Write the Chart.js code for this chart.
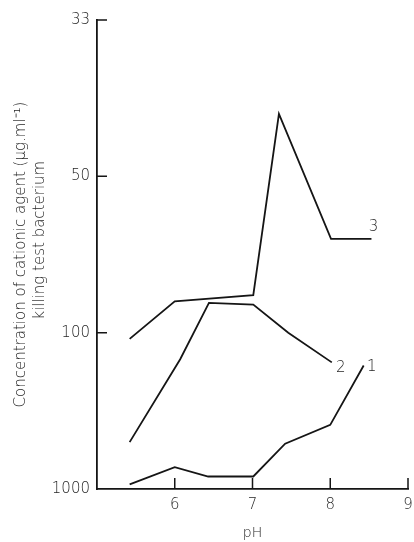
<!DOCTYPE html>
<html><head><meta charset="utf-8">
<script src="https://cdn.jsdelivr.net/npm/chart.js@4.4.0/dist/chart.umd.min.js"></script>
<style>html,body{margin:0;padding:0;background:#fff}#wrap{width:414px;height:542px}</style>
</head><body><div id="wrap"><canvas id="c" width="414" height="542"></canvas></div>
<script>
// Y axis: equally spaced levels labelled with concentrations (bottom to top)
const yTickLabels = ['1000', '100', '50', '33'];
const xTickValues = [6, 7, 8, 9];

// Curve 1
const curve1pH    = [5.42, 6.00, 6.43, 7.01, 7.42, 8.00, 8.43];
const curve1Level = [0.03, 0.14, 0.08, 0.08, 0.29, 0.41, 0.79];
// Curve 2
const curve2pH    = [5.42, 6.07, 6.44, 7.01, 7.46, 8.02];
const curve2Level = [0.30, 0.83, 1.19, 1.18, 1.00, 0.81];
// Curve 3
const curve3pH    = [5.42, 6.00, 7.01, 7.34, 8.01, 8.53];
const curve3Level = [0.96, 1.20, 1.24, 2.40, 1.60, 1.60];

const curveNames = ['1', '2', '3'];
const labelOffsets = [[8, 2], [9, 6], [2, -12]];

const ink = '#151515';
const txt = '#262626';
const fontFam = '"DejaVu Sans", sans-serif';
const fontW = '200';

function pts(xs, ys) { return xs.map((x, i) => ({x: x, y: ys[i]})); }

const ds = (data) => ({data, borderColor: ink, borderWidth: 1.8, pointRadius: 0, tension: 0, fill: false});

const inward = {
  id: 'inward',
  afterDraw(chart) {
    const ctx = chart.ctx, xs = chart.scales.x, ys = chart.scales.y;
    ctx.save();
    ctx.strokeStyle = ink; ctx.lineWidth = 1.5;
    ctx.beginPath();
    xTickValues.forEach(v => { const px = xs.getPixelForValue(v); ctx.moveTo(px, ys.bottom); ctx.lineTo(px, ys.bottom - 11); });
    for (let i = 1; i < yTickLabels.length; i++) { const py = ys.getPixelForValue(i); ctx.moveTo(xs.left, py); ctx.lineTo(xs.left + 10, py); }
    ctx.stroke();
    ctx.fillStyle = txt; ctx.font = fontW + ' 15px ' + fontFam; ctx.textAlign = 'center'; ctx.textBaseline = 'middle';
    chart.data.datasets.forEach((d, i) => {
      const last = d.data[d.data.length - 1];
      const px = xs.getPixelForValue(last.x), py = ys.getPixelForValue(last.y);
      ctx.fillText(curveNames[i], px + labelOffsets[i][0], py + labelOffsets[i][1]);
    });
    ctx.restore();
  }
};

new Chart(document.getElementById('c'), {
  type: 'line',
  data: { datasets: [ds(pts(curve1pH, curve1Level)), ds(pts(curve2pH, curve2Level)), ds(pts(curve3pH, curve3Level))] },
  options: {
    responsive: false, animation: false,
    layout: { padding: { top: 20, right: 6, left: 0, bottom: 0 } },
    plugins: { legend: { display: false }, tooltip: { enabled: false } },
    scales: {
      x: {
        type: 'linear', min: 5, max: 9,
        afterFit: s => { s.height = 53; s.paddingRight = 0; s.paddingLeft = 0; },
        grid: { display: true, drawOnChartArea: false, drawTicks: false },
        border: { display: true, color: ink, width: 1.8 },
        ticks: { stepSize: 1, padding: 7, color: txt, font: { family: fontFam, size: 15, weight: fontW },
                 callback: v => (v === 5 ? '' : String(v)) },
        title: { display: true, text: 'pH', color: txt, font: { family: fontFam, size: 14, weight: fontW }, padding: { top: 5, bottom: 0 } }
      },
      y: {
        type: 'linear', min: 0, max: 3,
        afterFit: s => { s.width = 97; },
        grid: { display: true, drawOnChartArea: false, drawTicks: false },
        border: { display: true, color: ink, width: 1.8 },
        ticks: { stepSize: 1, padding: 7, color: txt, font: { family: fontFam, size: 15, weight: fontW },
                 callback: v => yTickLabels[v] },
        title: { display: true, text: ['Concentration of cationic agent (\u03bcg.ml\u207b\u00b9)', '      killing test bacterium'],
                 color: txt, font: { family: fontFam, size: 15, weight: fontW, lineHeight: 1.3 }, padding: { top: 11, bottom: 0 } }
      }
    }
  },
  plugins: [inward]
});
</script></body></html>
